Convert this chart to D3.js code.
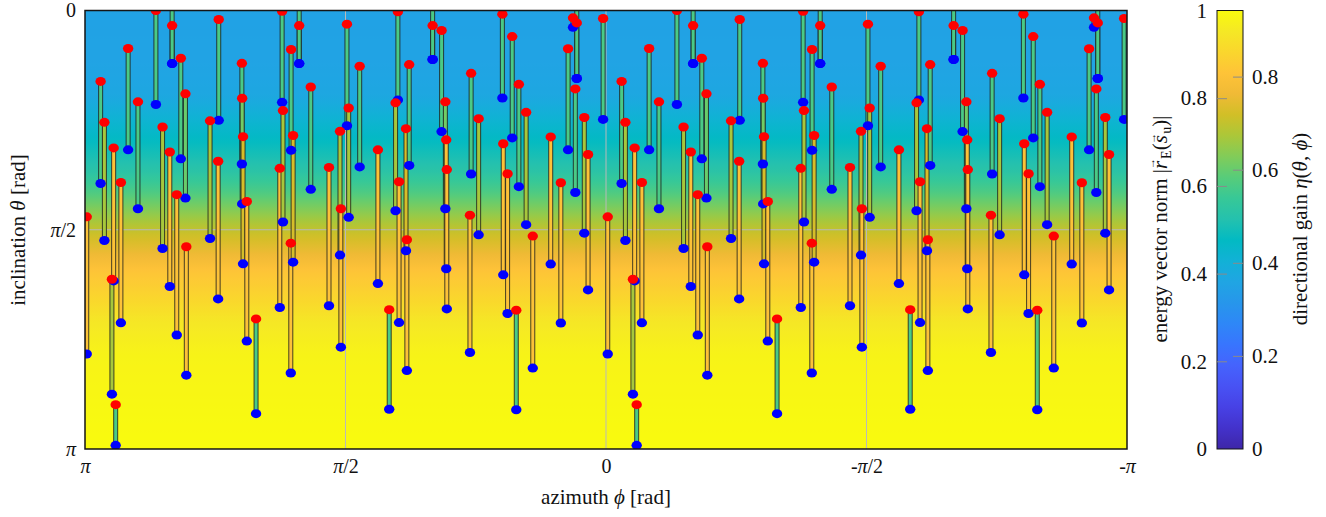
<!DOCTYPE html>
<html>
<head>
<meta charset="utf-8">
<script src="https://cdn.jsdelivr.net/npm/d3@7"></script>
<style>
  body { margin: 0; background: #fff; }
</style>
</head>
<body>
<svg width="1326" height="517"></svg>
<script>
// azimuth phi and inclination theta of every stem, in degrees
var azimuth = [
  179.4,174.6,173.3,170.1,170.7,169.4,167.6,165.1,161.7,155.5,
  153.2,150.7,149.9,149.9,148.3,146.9,145.3,145.0,136.8,134.0,
  133.8,125.8,125.7,125.4,124.1,120.9,112.7,111.9,111.6,108.9,
  108.8,108.1,106.0,106.0,102.0,95.7,91.9,91.6,89.5,88.9,
  85.1,78.8,74.9,72.7,71.9,71.5,69.1,68.8,68.0,59.9,
  59.9,56.8,55.5,55.2,55.0,47.0,46.6,44.0,35.8,35.5,
  34.0,32.4,31.0,30.1,27.6,25.3,19.1,15.6,13.1,11.4,
  10.6,10.1,10.1,7.5,6.2,1.0,
  -0.6,-5.4,-6.7,-9.9,-9.3,-10.6,-12.4,-14.9,-18.3,-24.5,
  -26.8,-29.3,-30.1,-30.1,-31.7,-33.1,-34.7,-35.0,-43.2,-46.0,
  -46.2,-54.2,-54.3,-54.6,-55.9,-59.1,-67.3,-68.1,-68.4,-71.1,
  -71.2,-71.9,-74.0,-74.0,-78.0,-84.3,-88.1,-88.4,-90.5,-91.1,
  -94.9,-101.2,-105.1,-107.3,-108.1,-108.5,-110.9,-111.2,-112.0,-120.1,
  -120.1,-123.2,-124.5,-124.8,-125.0,-133.0,-133.4,-136.0,-144.2,-144.5,
  -146.0,-147.6,-149.0,-149.9,-152.4,-154.7,-160.9,-164.4,-166.9,-168.6,
  -169.4,-169.9,-169.9,-172.5,-173.8,-179.0
];
var thetaRed = [
  84.7,29.1,45.9,56.4,110.3,161.8,70.6,15.6,37.5,0.0,
  47.8,58.1,-4,6.2,75.6,19.6,34.2,97.0,45.3,61.9,
  3.7,21.7,36.0,51.8,78.4,126.6,64.8,0.3,41.1,95.5,
  16.0,51.3,-4,6.2,31.4,64.4,49.6,81.4,5.6,40.0,
  22.9,57.2,122.8,37.9,0.5,70.3,48.5,94.1,22.2,-4,
  6.2,8.2,37.5,53.1,65.3,84.0,25.8,44.4,1.5,54.7,
  67.0,10.7,123.0,30.3,41.8,92.6,51.9,70.7,15.7,3.0,
  32.2,-4,5.1,43.9,59.1,3.3,
  84.7,29.1,45.9,56.4,110.3,161.8,70.6,15.6,37.5,0.0,
  47.8,58.1,-4,6.2,75.6,19.6,34.2,97.0,45.3,61.9,
  3.7,21.7,36.0,51.8,78.4,126.6,64.8,0.3,41.1,95.5,
  16.0,51.3,-4,6.2,31.4,64.4,49.6,81.4,5.6,40.0,
  22.9,57.2,122.8,37.9,0.5,70.3,48.5,94.1,22.2,-4,
  6.2,8.2,37.5,53.1,65.3,84.0,25.8,44.4,1.5,54.7,
  67.0,10.7,123.0,30.3,41.8,92.6,51.9,70.7,15.7,3.0,
  32.2,-4,5.1,43.9,59.1,3.3
];
var thetaBlue = [
  141.0,71.0,94.4,111.0,157.5,178.5,128.2,57.2,81.4,38.6,
  97.7,113.3,21.8,21.8,133.2,60.9,77.0,149.7,93.6,118.4,
  45.1,63.0,79.4,104.0,135.7,165.5,121.9,37.7,86.8,148.8,
  57.4,103.3,21.8,21.8,73.4,121.2,100.4,138.2,47.3,84.9,
  64.2,112.1,163.7,82.2,36.7,128.1,98.6,147.8,63.6,20.1,
  20.1,49.7,81.4,106.0,122.5,140.4,67.1,92.1,35.9,108.5,
  124.4,52.3,163.9,72.3,87.9,146.8,104.1,128.3,57.2,6.9,
  74.7,27.9,27.9,91.4,114.7,44.7,
  141.0,71.0,94.4,111.0,157.5,178.5,128.2,57.2,81.4,38.6,
  97.7,113.3,21.8,21.8,133.2,60.9,77.0,149.7,93.6,118.4,
  45.1,63.0,79.4,104.0,135.7,165.5,121.9,37.7,86.8,148.8,
  57.4,103.3,21.8,21.8,73.4,121.2,100.4,138.2,47.3,84.9,
  64.2,112.1,163.7,82.2,36.7,128.1,98.6,147.8,63.6,20.1,
  20.1,49.7,81.4,106.0,122.5,140.4,67.1,92.1,35.9,108.5,
  124.4,52.3,163.9,72.3,87.9,146.8,104.1,128.3,57.2,6.9,
  74.7,27.9,27.9,91.4,114.7,44.7
];
// energy vector norm of each stem (stem colour)
var normE = [
  .85,.6,.71,.85,.71,.6,.85,.6,.6,.6,
  .71,.85,.6,.6,.85,.6,.64,.85,.71,.85,
  .6,.6,.65,.77,.85,.6,.85,.6,.71,.85,
  .6,.77,.6,.6,.6,.85,.71,.85,.6,.71,
  .6,.85,.6,.71,.6,.85,.77,.85,.6,.6,
  .6,.6,.65,.85,.85,.85,.6,.71,.6,.85,
  .85,.6,.6,.6,.71,.85,.85,.85,.6,.6,
  .6,.6,.6,.71,.85,.6,
  .85,.6,.71,.85,.71,.6,.85,.6,.6,.6,
  .71,.85,.6,.6,.85,.6,.64,.85,.71,.85,
  .6,.6,.65,.77,.85,.6,.85,.6,.71,.85,
  .6,.77,.6,.6,.6,.85,.71,.85,.6,.71,
  .6,.85,.6,.71,.6,.85,.77,.85,.6,.6,
  .6,.6,.65,.85,.85,.85,.6,.71,.6,.85,
  .85,.6,.6,.6,.71,.85,.85,.85,.6,.6,
  .6,.6,.6,.71,.85,.6
];
// directional gain profile over inclination (background)
var bgTheta = [0, 20, 35, 45, 52, 66, 74, 83, 91, 99, 107, 117, 128, 141, 180];
var bgGain = [0.349, 0.353, 0.367, 0.414, 0.443, 0.509, 0.565, 0.641, 0.707, 0.754, 0.81, 0.848, 0.895, 0.923, 0.942];
var gainMax = 0.942;

var xTicks = [180, 90, 0, -90, -180], xTickLabels = ["π", "π/2", "0", "-π/2", "-π"];
var yTicks = [0, 90, 180], yTickLabels = ["0", "π/2", "π"];
var normTicks = [0, 0.2, 0.4, 0.6, 0.8, 1];
var gainTicks = [0, 0.2, 0.4, 0.6, 0.8];

var parula = ["#3e26a8","#4332cb","#4741e5","#4852f4","#4563fd","#3875fe","#2e87f7","#2796eb",
  "#20a5e3","#12b1d6","#02bac3","#24c1ae","#37c897","#57cc7a","#81cc59","#abc739",
  "#d1bf27","#f0ba36","#fec338","#fad62d","#f5e825","#f9fb0e"];

var FONT = "'Liberation Serif', 'DejaVu Serif', serif";

var svg = d3.select("svg"),
  px0 = 85, px1 = 1127, py0 = 10.5, py1 = 449,
  x = d3.scaleLinear().domain([180, -180]).range([px0, px1]),
  y = d3.scaleLinear().domain([0, 180]).range([py0, py1]),
  cmap = d3.scaleLinear()
    .domain(parula.map(function(d, i) { return i / (parula.length - 1); }))
    .range(parula).clamp(true),
  defs = svg.append("defs");

// background gradient, sampled finely so it follows the colormap
var gainAt = d3.scaleLinear().domain(bgTheta).range(bgGain);
var bg = defs.append("linearGradient").attr("id", "bg")
  .attr("x1", 0).attr("y1", 0).attr("x2", 0).attr("y2", 1);
d3.range(0, 181, 2).forEach(function(t) {
  bg.append("stop").attr("offset", t / 180).attr("stop-color", cmap(gainAt(t) / gainMax));
});

var cb = defs.append("linearGradient").attr("id", "cb")
  .attr("x1", 0).attr("y1", 1).attr("x2", 0).attr("y2", 0);
parula.forEach(function(c, i) {
  cb.append("stop").attr("offset", i / (parula.length - 1)).attr("stop-color", c);
});

defs.append("clipPath").attr("id", "clip").append("rect")
  .attr("x", px0).attr("y", py0).attr("width", px1 - px0).attr("height", py1 - py0);

svg.append("rect")
  .attr("x", px0).attr("y", py0).attr("width", px1 - px0).attr("height", py1 - py0)
  .attr("fill", "url(#bg)");

// grid
var grid = svg.append("g").attr("stroke", "#b9b9b9").attr("stroke-width", 1);
[90, 0, -90].forEach(function(d) {
  grid.append("line").attr("x1", x(d)).attr("x2", x(d)).attr("y1", py0).attr("y2", py1);
});
grid.append("line").attr("x1", px0).attr("x2", px1).attr("y1", y(90)).attr("y2", y(90));

var plot = svg.append("g").attr("clip-path", "url(#clip)");
var idx = d3.range(azimuth.length);

plot.selectAll(".stem").data(idx).enter().append("rect")
  .attr("class", "stem")
  .attr("x", function(i) { return x(azimuth[i]) - 2; })
  .attr("width", 4)
  .attr("y", function(i) { return y(Math.min(thetaRed[i], thetaBlue[i])); })
  .attr("height", function(i) { return Math.abs(y(thetaRed[i]) - y(thetaBlue[i])); })
  .attr("fill", function(i) { return cmap(normE[i]); })
  .attr("stroke", "#1b1b1b").attr("stroke-opacity", 0.8).attr("stroke-width", 1);

plot.selectAll(".blue").data(idx).enter().append("ellipse")
  .attr("cx", function(i) { return x(azimuth[i]); })
  .attr("cy", function(i) { return y(thetaBlue[i]); })
  .attr("rx", 5.2).attr("ry", 4.5).attr("fill", "#0000ff");

plot.selectAll(".red").data(idx).enter().append("ellipse")
  .attr("cx", function(i) { return x(azimuth[i]); })
  .attr("cy", function(i) { return y(thetaRed[i]); })
  .attr("rx", 5.2).attr("ry", 4.5).attr("fill", "#ff0000");

svg.append("rect")
  .attr("x", px0).attr("y", py0).attr("width", px1 - px0).attr("height", py1 - py0)
  .attr("fill", "none").attr("stroke", "#151515").attr("stroke-width", 1.5);

// writes a string with italic greek letters
function mathText(sel, str) {
  sel.text(null);
  str.split(/([πθϕη])/).forEach(function(part) {
    if (!part) return;
    sel.append("tspan").text(part)
      .style("font-style", /[πθϕη]/.test(part) ? "italic" : null);
  });
}

function styleText(sel, size) {
  sel.attr("font-family", FONT).style("font-family", FONT)
    .attr("font-size", size).attr("fill", "#111");
}

var xAxis = svg.append("g").attr("transform", "translate(0," + py1 + ")")
  .call(d3.axisBottom(x).tickValues(xTicks).tickSize(0)
    .tickFormat(function(d, i) { return xTickLabels[i]; }));
xAxis.select(".domain").remove();
xAxis.selectAll("text").attr("dy", null).attr("y", 24)
  .call(styleText, 20)
  .each(function() { mathText(d3.select(this), d3.select(this).text()); });

var yAxis = svg.append("g").attr("transform", "translate(" + px0 + ",0)")
  .call(d3.axisLeft(y).tickValues(yTicks).tickSize(0).tickPadding(9)
    .tickFormat(function(d, i) { return yTickLabels[i]; }));
yAxis.select(".domain").remove();
yAxis.selectAll("text").call(styleText, 20)
  .each(function() { mathText(d3.select(this), d3.select(this).text()); });

var xl = svg.append("text").attr("x", 606).attr("y", 504)
  .attr("text-anchor", "middle").call(styleText, 21);
mathText(xl, "azimuth ϕ [rad]");

var yl = svg.append("text").attr("transform", "translate(25,230) rotate(-90)")
  .attr("text-anchor", "middle").call(styleText, 21);
mathText(yl, "inclination θ [rad]");

// colorbar
var cbx0 = 1217, cbx1 = 1243,
  normY = d3.scaleLinear().domain([0, 1]).range([py1, py0]),
  gainY = d3.scaleLinear().domain([0, gainMax]).range([py1, py0]);

svg.append("rect").attr("x", cbx0).attr("y", py0)
  .attr("width", cbx1 - cbx0).attr("height", py1 - py0)
  .attr("fill", "url(#cb)").attr("stroke", "#151515").attr("stroke-width", 1);

var cbl = svg.append("g").attr("transform", "translate(" + cbx0 + ",0)")
  .call(d3.axisLeft(normY).tickValues(normTicks).tickSizeInner(-10).tickSizeOuter(0).tickPadding(10)
    .tickFormat(function(d) { return String(d); }));
var cbr = svg.append("g").attr("transform", "translate(" + cbx1 + ",0)")
  .call(d3.axisRight(gainY).tickValues(gainTicks).tickSizeInner(-10).tickSizeOuter(0).tickPadding(9)
    .tickFormat(function(d) { return String(d); }));
[cbl, cbr].forEach(function(g) {
  g.select(".domain").remove();
  g.selectAll("line").attr("stroke", "#8a8a8a");
  g.selectAll("text").call(styleText, 21);
});
cbl.selectAll(".tick").filter(function(d) { return d === 0 || d === 1; }).select("line").remove();
cbr.selectAll(".tick").filter(function(d) { return d === 0; }).select("line").remove();

// |r_E(s_u)| with vector arrows drawn as small raised glyphs
var ll = svg.append("text").attr("transform", "translate(1167,229) rotate(-90)")
  .attr("text-anchor", "middle").call(styleText, 21);
ll.append("tspan").text("energy vector norm |");
ll.append("tspan").style("font-style", "italic").text("r");
ll.append("tspan").attr("font-size", 11).attr("dx", -8).attr("dy", -12).text("→");
ll.append("tspan").attr("dy", 16).attr("dx", -1).attr("font-size", 14).text("E");
ll.append("tspan").attr("dy", -4).text("(");
ll.append("tspan").style("font-style", "italic").text("s");
ll.append("tspan").attr("font-size", 11).attr("dx", -8.5).attr("dy", -11).text("→");
ll.append("tspan").attr("dy", 15).attr("dx", -1).attr("font-size", 14).text("u");
ll.append("tspan").attr("dy", -4).text(")|");

var rl = svg.append("text").attr("transform", "translate(1307,229) rotate(-90)")
  .attr("text-anchor", "middle").call(styleText, 21);
mathText(rl, "directional gain η(θ, ϕ)");
</script>
</body>
</html>
